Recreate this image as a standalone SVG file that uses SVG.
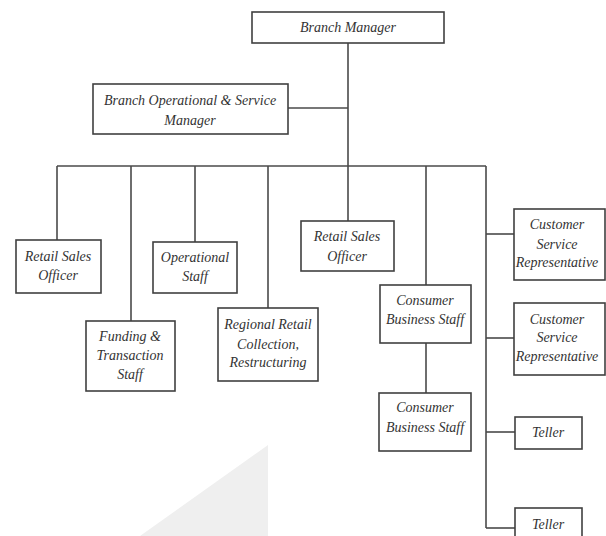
<svg xmlns="http://www.w3.org/2000/svg" width="606" height="536" viewBox="0 0 606 536">
<style>
.box{fill:#fff;stroke:#404040;stroke-width:1.6}
.lbl{font-family:"Liberation Serif","Times New Roman",serif;font-style:italic;font-size:14px;fill:#333;text-anchor:middle}
#connectors line{stroke:#4a4a4a;stroke-width:1.6}
</style>
<rect width="606" height="536" fill="#fff"/>
<polygon points="140,536 268,445 268,536" fill="#efefef"/>
<g id="connectors">
<line x1="348" y1="43" x2="348" y2="221"/>
<line x1="288" y1="108" x2="348" y2="108"/>
<line x1="57" y1="166" x2="486" y2="166"/>
<line x1="57" y1="166" x2="57" y2="240"/>
<line x1="131" y1="166" x2="131" y2="321"/>
<line x1="195" y1="166" x2="195" y2="242"/>
<line x1="268" y1="166" x2="268" y2="308"/>
<line x1="426" y1="166" x2="426" y2="285"/>
<line x1="426" y1="343" x2="426" y2="393"/>
<line x1="486" y1="166" x2="486" y2="528"/>
<line x1="486" y1="234" x2="514" y2="234"/>
<line x1="486" y1="338" x2="514" y2="338"/>
<line x1="486" y1="432" x2="515" y2="432"/>
<line x1="486" y1="528" x2="515" y2="528"/>
</g>
<g id="branch-manager"><rect class="box" x="252" y="12" width="192" height="31"/><text class="lbl" x="348" y="32">Branch Manager</text></g>
<g id="branch-op-manager"><rect class="box" x="93" y="84" width="195" height="50"/><text class="lbl" x="190" y="105">Branch Operational &amp; Service</text><text class="lbl" x="190" y="125">Manager</text></g>
<g id="retail-sales-1"><rect class="box" x="16" y="240" width="85" height="53"/><text class="lbl" x="58" y="261">Retail Sales</text><text class="lbl" x="58" y="280">Officer</text></g>
<g id="funding"><rect class="box" x="86" y="321" width="89" height="70"/><text class="lbl" x="130" y="341">Funding &amp;</text><text class="lbl" x="130" y="360">Transaction</text><text class="lbl" x="130" y="379">Staff</text></g>
<g id="operational"><rect class="box" x="153" y="242" width="84" height="51"/><text class="lbl" x="195" y="262">Operational</text><text class="lbl" x="195" y="281">Staff</text></g>
<g id="regional"><rect class="box" x="218" y="308" width="100" height="73"/><text class="lbl" x="268" y="329">Regional Retail</text><text class="lbl" x="268" y="349">Collection,</text><text class="lbl" x="268" y="367">Restructuring</text></g>
<g id="retail-sales-2"><rect class="box" x="301" y="221" width="93" height="50"/><text class="lbl" x="347" y="241">Retail Sales</text><text class="lbl" x="347" y="261">Officer</text></g>
<g id="consumer-1"><rect class="box" x="380" y="285" width="91" height="58"/><text class="lbl" x="425" y="305">Consumer</text><text class="lbl" x="425" y="324">Business Staff</text></g>
<g id="consumer-2"><rect class="box" x="379" y="393" width="92" height="58"/><text class="lbl" x="425" y="412">Consumer</text><text class="lbl" x="425" y="432">Business Staff</text></g>
<g id="csr-1"><rect class="box" x="514" y="209" width="91" height="71"/><text class="lbl" x="557" y="229">Customer</text><text class="lbl" x="557" y="249">Service</text><text class="lbl" x="557" y="267">Representative</text></g>
<g id="csr-2"><rect class="box" x="514" y="303" width="91" height="72"/><text class="lbl" x="557" y="324">Customer</text><text class="lbl" x="557" y="342">Service</text><text class="lbl" x="557" y="361">Representative</text></g>
<g id="teller-1"><rect class="box" x="515" y="417" width="67" height="32"/><text class="lbl" x="548" y="437">Teller</text></g>
<g id="teller-2"><rect class="box" x="515" y="508" width="67" height="40"/><text class="lbl" x="548" y="529">Teller</text></g>
</svg>
